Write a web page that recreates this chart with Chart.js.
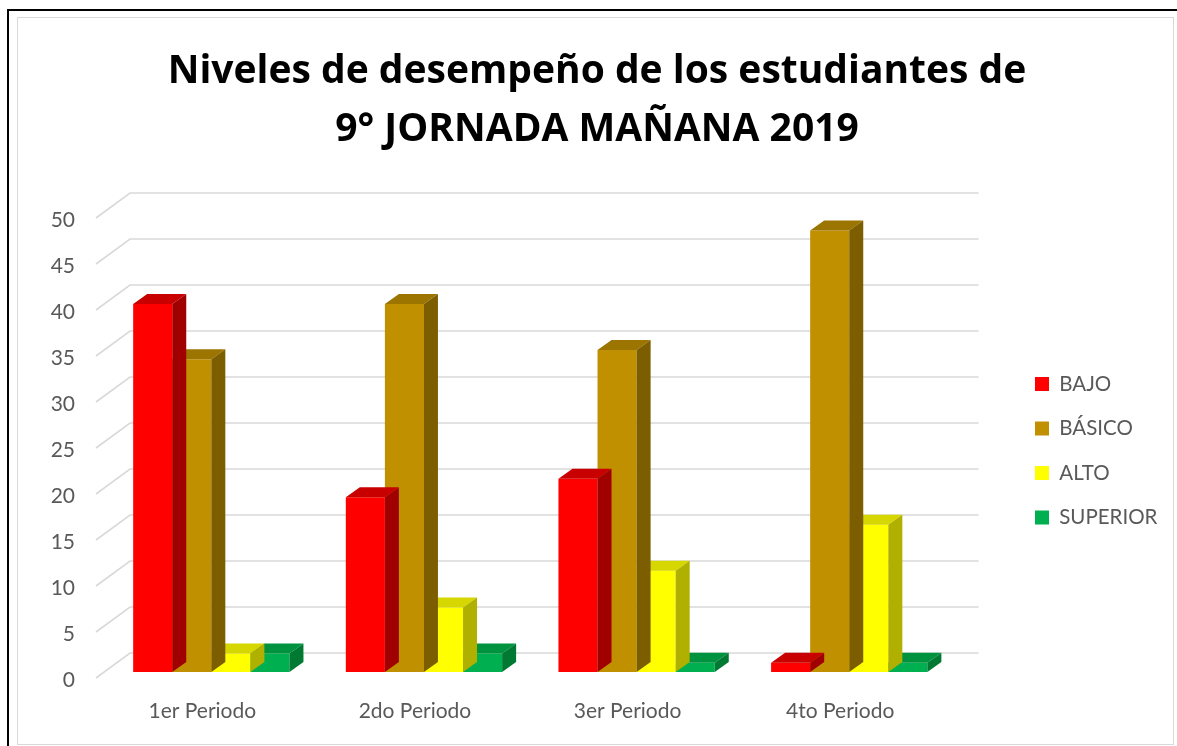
<!DOCTYPE html>
<html>
<head>
<meta charset="utf-8">
<script src="https://cdn.jsdelivr.net/npm/chart.js@4.4.1/dist/chart.umd.min.js"></script>
<style>
  html, body { margin: 0; padding: 0; background: #ffffff; }
  #frame { position: absolute; left: 0; top: 0; width: 1177px; height: 746px; overflow: hidden; background: #fff; }
  #outer { position: absolute; left: 7px; top: 9px; width: 1200px; height: 800px; border-left: 2px solid #000; border-top: 2px solid #000; }
  #inner { position: absolute; left: 17px; top: 17px; width: 1155px; height: 726px; border: 1px solid #d9d9d9; }
  #chart { position: absolute; left: 0; top: 0; }
</style>
</head>
<body>
<div id="frame">
  <div id="outer"></div>
  <div id="inner"></div>
  <canvas id="chart" width="1177" height="746"></canvas>
</div>
<script>
// Periods on the category axis
const periodos = ['1er Periodo', '2do Periodo', '3er Periodo', '4to Periodo'];

// Number of students per performance level
const bajo     = [40, 19, 21, 1];
const basico   = [34, 40, 35, 48];
const alto     = [2, 7, 11, 16];
const superior = [2, 2, 1, 1];

// Value axis
const yMin = 0;
const yMax = 50;
const yStep = 5;

const tituloLineas = ['Niveles de desempeño de los estudiantes de', '9° JORNADA MAÑANA 2019'];

// Face colours: front, top, side
const colores = {
  BAJO:     ['#FF0000', '#C80000', '#A00000'],
  'BÁSICO': ['#C09000', '#9C7500', '#7C5D00'],
  ALTO:     ['#FFFF00', '#D6D600', '#B0B000'],
  SUPERIOR: ['#00B050', '#00933F', '#007A33']
};

// Depth of a column (top/side faces) and of the floor/back wall
const DEPTH = { dx: 14, dy: -10 };
const WALL_BACK = { dx: 25, dy: -19 };
const WALL_FRONT = { dx: -9, dy: 6 };

const gridBackWall = {
  id: 'gridBackWall',
  beforeDatasetsDraw(chart) {
    const { ctx, chartArea } = chart;
    const ys = chart.scales.y;
    ctx.save();
    ctx.strokeStyle = '#d9d9d9';
    ctx.lineWidth = 1.6;
    ys.ticks.forEach(t => {
      const y = ys.getPixelForValue(t.value);
      ctx.beginPath();
      ctx.moveTo(chartArea.left + WALL_FRONT.dx, y + WALL_FRONT.dy);
      ctx.lineTo(chartArea.left + WALL_BACK.dx, y + WALL_BACK.dy);
      ctx.lineTo(chartArea.right + WALL_BACK.dx - 2, y + WALL_BACK.dy);
      ctx.stroke();
    });
    ctx.restore();
  }
};

const columnFaces = {
  id: 'columnFaces',
  afterDatasetDraw(chart, args) {
    const { ctx } = chart;
    const meta = args.meta;
    const ds = chart.data.datasets[args.index];
    const [, topC, sideC] = colores[ds.label];
    ctx.save();
    meta.data.forEach(bar => {
      const { x, y, base, width } = bar.getProps(['x', 'y', 'base', 'width'], true);
      const l = x - width / 2, r = x + width / 2;
      // top face
      ctx.fillStyle = topC;
      ctx.beginPath();
      ctx.moveTo(l, y);
      ctx.lineTo(l + DEPTH.dx, y + DEPTH.dy);
      ctx.lineTo(r + DEPTH.dx, y + DEPTH.dy);
      ctx.lineTo(r, y);
      ctx.closePath();
      ctx.fill();
      // side face
      ctx.fillStyle = sideC;
      ctx.beginPath();
      ctx.moveTo(r, y);
      ctx.lineTo(r + DEPTH.dx, y + DEPTH.dy);
      ctx.lineTo(r + DEPTH.dx, base + DEPTH.dy);
      ctx.lineTo(r, base);
      ctx.closePath();
      ctx.fill();
    });
    ctx.restore();
  }
};

// Centres the title on x = 597 and places the legend block beside the back wall
const blockPlace = {
  id: 'blockPlace',
  afterLayout(chart) {
    const tb = chart.titleBlock;
    const sx = 597 - (tb.left + tb.right) / 2;
    tb.left += sx; tb.right += sx;

    const lg = chart.legend;
    const ca = chart.chartArea;
    const pad = lg.options.labels.padding;
    const dx = 1035 - (lg.left + pad);
    lg.left += dx; lg.right += dx;
    const colH = lg.columnSizes[0].height;
    const itemH = Math.max(lg.options.labels.boxHeight, lg.options.labels.font.size);
    const y0 = 384 - itemH / 2;
    const d = y0 - (ca.top + pad + ca.bottom - colH) / 2;
    lg.top = ca.top + d;
    lg.bottom = ca.bottom + d;
  }
};

const tickFont = { family: 'Lato', size: 21 };

new Chart(document.getElementById('chart'), {
  type: 'bar',
  data: {
    labels: periodos,
    datasets: [
      { label: 'BAJO', data: bajo, backgroundColor: colores.BAJO[0] },
      { label: 'BÁSICO', data: basico, backgroundColor: colores['BÁSICO'][0] },
      { label: 'ALTO', data: alto, backgroundColor: colores.ALTO[0] },
      { label: 'SUPERIOR', data: superior, backgroundColor: colores.SUPERIOR[0] }
    ]
  },
  options: {
    responsive: false,
    animation: false,
    layout: { padding: { left: 18, top: 17, right: 65, bottom: 0 } },
    datasets: { bar: { barPercentage: 1, categoryPercentage: 0.735 } },
    scales: {
      x: {
        grid: { display: false },
        border: { display: false },
        ticks: { color: '#595959', font: tickFont, padding: 19, labelOffset: -9 },
        afterFit(s) { s.height = 74; }
      },
      y: {
        min: yMin, max: yMax,
        grid: { display: false, drawTicks: false },
        border: { display: false },
        ticks: { stepSize: yStep, color: '#595959', font: tickFont, padding: 30, labelOffset: 8 },
        afterFit(s) { s.width = 87; }
      }
    },
    plugins: {
      title: {
        display: true,
        text: tituloLineas,
        color: '#000',
        font: { family: 'Open Sans', weight: 'bold', size: 39, lineHeight: 58 / 39 },
        padding: { top: 26, bottom: 53 }
      },
      legend: {
        position: 'right',
        labels: {
          boxWidth: 14, boxHeight: 14, padding: 24,
          color: '#595959',
          font: { family: 'Lato', size: 20.5 }
        }
      },
      tooltip: { enabled: false }
    }
  },
  plugins: [gridBackWall, columnFaces, blockPlace]
});
</script>
</body>
</html>
